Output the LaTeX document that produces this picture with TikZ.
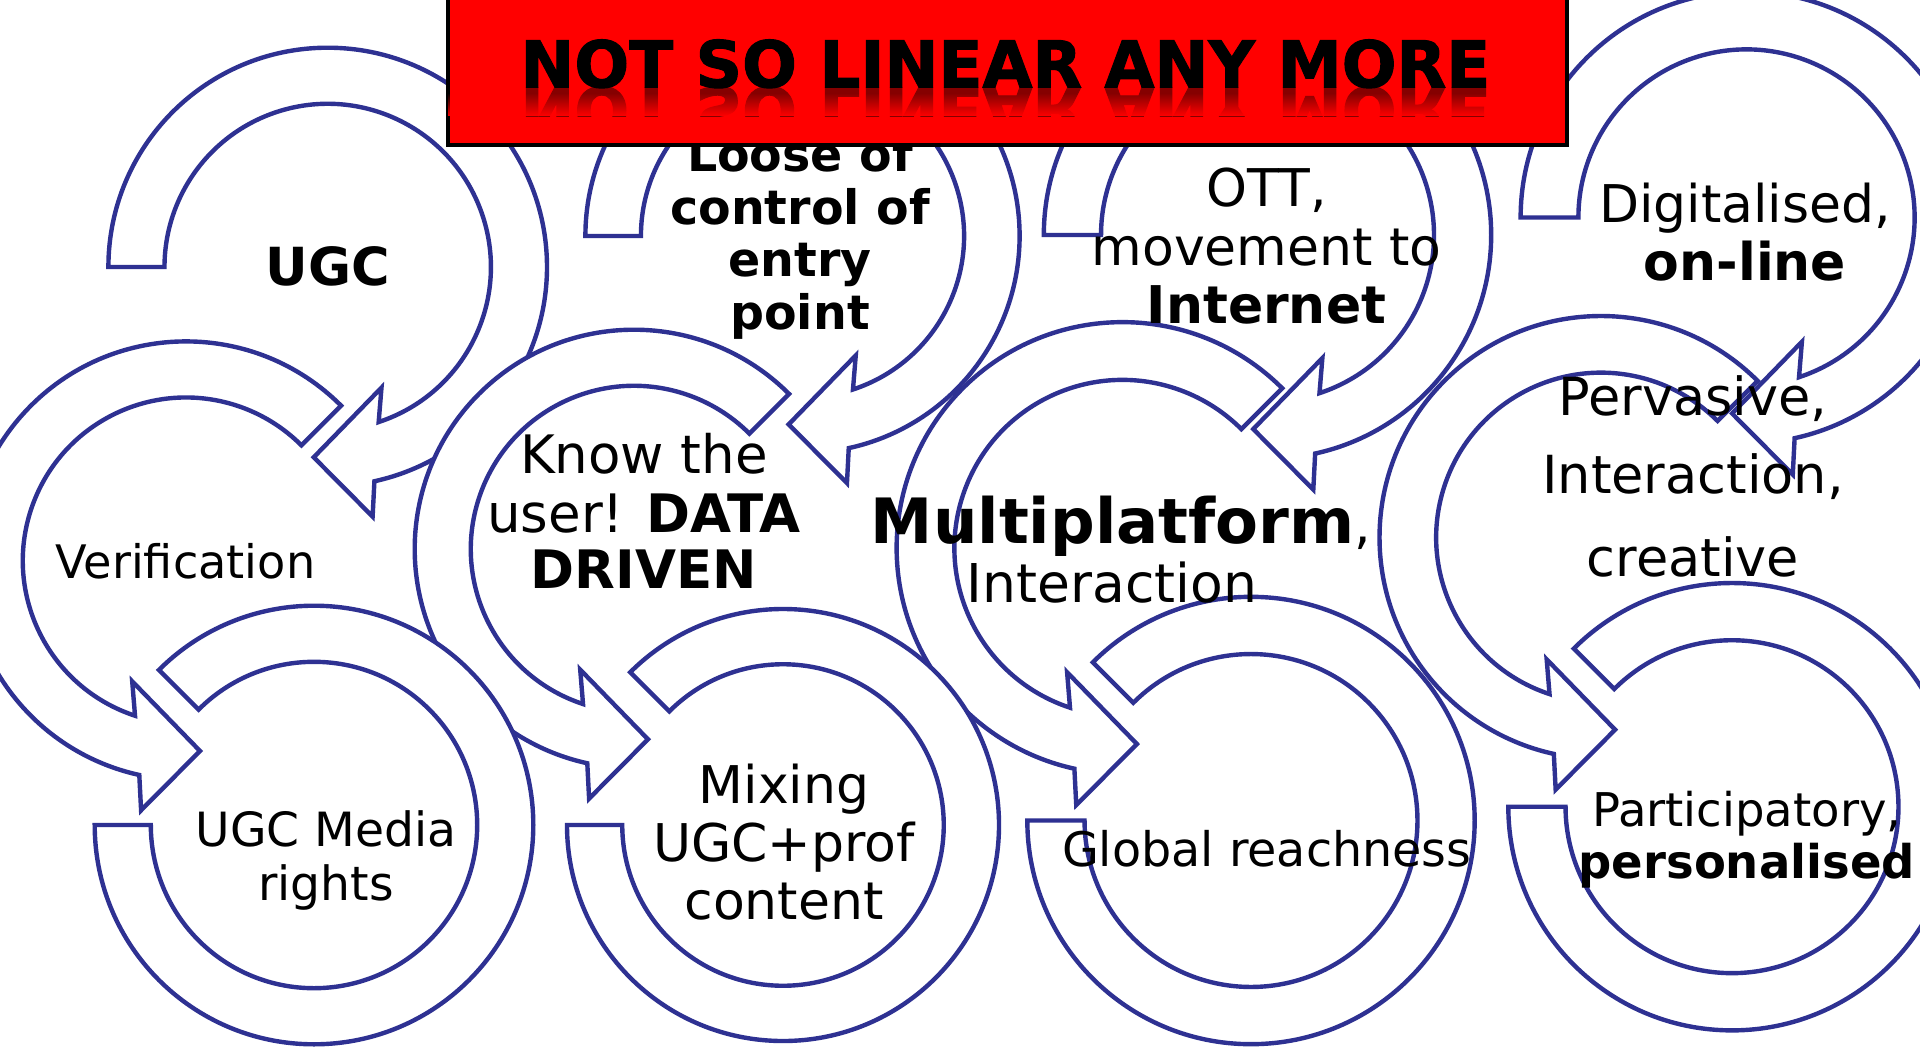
\documentclass[tikz,border=0pt]{standalone}
\usepackage{fontspec}
\setmainfont{DejaVu Sans}
\newfontfamily\heavyfont{DejaVu Sans Bold}[FakeBold=1.6]
\usetikzlibrary{fadings}

\definecolor{ringblue}{RGB}{46,49,146}
\definecolor{bannerred}{RGB}{255,0,0}

\tikzset{
  ring/.style={fill=white, draw=ringblue, line width=4.4pt, line join=miter, miter limit=10},
  txt/.style={anchor=base, inner sep=0pt, text=black, font=\fontsize{#1}{#1}\selectfont},
  btxt/.style={txt=#1, font=\fontsize{#1}{#1}\selectfont\bfseries},
  htxt/.style={txt=#1, font=\fontsize{#1}{#1}\heavyfont},
}

% Outer radius 219.3, inner radius 163.2 (units of the picture)
% Clockwise arrow: flat tail at 9 o'clock, head below pointing left
\newcommand\cwArrow[3]{%
  \begin{scope}[shift={(#1,-#2)}, scale=#3]
    \path[ring] (180:219.3) arc[start angle=180, end angle=-77.7, radius=219.3]
      -- (-79.8:253.6) -- (-94.2:190.8) -- (-65.97:132.1) -- (-71.8:163.2)
      arc[start angle=-71.8, end angle=180, radius=163.2] -- cycle;
  \end{scope}}
% Counter-clockwise arrow: radial tail at 1:30, head below pointing right
\newcommand\ccwArrow[3]{%
  \begin{scope}[shift={(#1,-#2)}, scale=#3]
    \path[ring] (45:219.3) arc[start angle=45, end angle=257.7, radius=219.3]
      -- (259.8:253.6) -- (274.2:190.8) -- (245.97:132.1) -- (251.8:163.2)
      arc[start angle=251.8, end angle=45, radius=163.2] -- cycle;
  \end{scope}}
% Open ring without head: flat end at 9 o'clock, radial end at 10:30
\newcommand\blockRing[3]{%
  \begin{scope}[shift={(#1,-#2)}, scale=#3]
    \path[ring] (180:219.3) arc[start angle=180, end angle=495, radius=219.3]
      -- (135:163.2) arc[start angle=135, end angle=-180, radius=163.2] -- cycle;
  \end{scope}}

\begin{document}
\begin{tikzpicture}[x=1pt, y=1pt]
\useasboundingbox (0,0) rectangle (1920,-1052);
\clip (0,0) rectangle (1920,-1052);
\fill[white] (0,0) rectangle (1920,-1052);

% top row
\cwArrow{327.7}{267}{1}
\cwArrow{802.5}{236}{0.99}
\cwArrow{1267.5}{235}{1.02}
\cwArrow{1746.5}{217.5}{1.03}
% middle row
\ccwArrow{186}{560.7}{1}
\ccwArrow{634}{549}{1}
\ccwArrow{1122.5}{548}{1.03}
\ccwArrow{1601}{537.5}{1.01}
% bottom row
\blockRing{314}{825}{1}
\blockRing{783}{825}{0.985}
\blockRing{1251}{820.5}{1.02}
\blockRing{1732}{806.7}{1.02}

% labels, top row
\node[btxt=52.5] (ugc) at (328,-285) {UGC};
\node[btxt=47.5] (loose1) at (800,-171) {Loose of};
\node[btxt=47.5] (loose2) at (800,-224) {control of};
\node[btxt=47.5] (loose3) at (800,-276.5) {entry};
\node[btxt=47.5] (loose4) at (800,-329) {point};
\node[txt=52] (ott1) at (1266.5,-206.6) {OTT,};
\node[txt=52] (ott2) at (1266.5,-265) {movement to};
\node[btxt=52] (ott3) at (1266.5,-323.7) {Internet};
\node[txt=52] (dig1) at (1745,-222) {Digitalised,};
\node[btxt=52] (dig2) at (1745,-280.6) {on-line};

% labels, middle row
\node[txt=46.2] (verif) at (185.5,-578) {Verification};
\node[txt=53] (know1) at (644,-473.8) {Know the};
\node[txt=53] (know2) at (644,-532) {user! \textbf{DATA}};
\node[btxt=53] (know3) at (644,-588.7) {DRIVEN};
\node[txt=52] (multi1) at (1121,-543) {{\fontsize{62.5}{62.5}\selectfont\bfseries Multiplatform},};
\node[txt=53.5] (multi2) at (1112,-602.2) {Interaction};
\node[txt=52.5] (perv1) at (1693,-415) {Pervasive,};
\node[txt=52.5] (perv2) at (1693,-493.3) {Interaction,};
\node[txt=52.5] (perv3) at (1693,-576.7) {creative};

% labels, bottom row
\node[txt=47.2] (media1) at (326,-846.7) {UGC Media};
\node[txt=47.2] (media2) at (326,-900) {rights};
\node[txt=52] (mix1) at (784,-803.4) {Mixing};
\node[txt=52] (mix2) at (784,-861.6) {UGC+prof};
\node[txt=52] (mix3) at (784,-919.7) {content};
\node[txt=47.6] (global) at (1266.7,-866.4) {Global reachness};
\node[txt=46.5] (part1) at (1746.7,-826.7) {Participatory,};
\node[btxt=46.5] (part2) at (1746.7,-878.3) {personalised};

% banner with mirrored title fading into the red
\node[draw=black, fill=bannerred, line width=4pt, inner sep=0pt,
      minimum width=1119pt, minimum height=170pt, anchor=south west]
  (banner) at (446,-146.7) {};
\begin{scope}
  \clip (448,-87.3) rectangle (1563,-116);
  \node[htxt=64.5, text=bannerred!52!black, yscale=-1] (mirror) at (1005.4,-87.3)
    {NOT SO LINEAR ANY MORE};
\end{scope}
\fill[bannerred, path fading=north] (448,-93) rectangle (1563,-116);
\node[htxt=64.5] (title) at (1005.4,-87.3) {NOT SO LINEAR ANY MORE};
\end{tikzpicture}
\end{document}
